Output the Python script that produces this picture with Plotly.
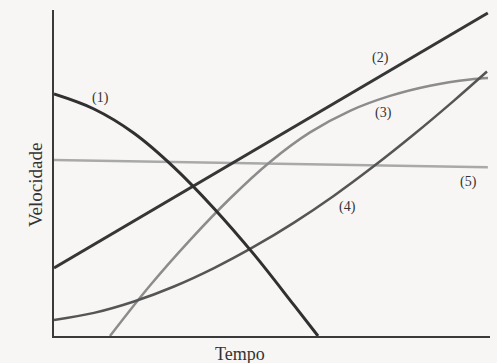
import plotly.graph_objects as go

# Data (arbitrary units, 0-100 scale)
x1 = [0, 9.17, 18.35, 27.52, 36.7, 45.87, 55.05, 60.55]
y1 = [74.23, 69.63, 62.21, 51.75, 39.14, 25.03, 9.45, 0]

x2 = [0, 99.5]
y2 = [20.9, 99.1]

x3 = [12.84, 22.02, 31.19, 40.37, 49.54, 58.72, 67.89, 77.06, 86.24, 95.41, 99.54]
y3 = [0, 15.49, 29.42, 42.18, 53.4, 62.45, 69.08, 73.65, 76.78, 78.71, 79.14]

x4 = [0, 9.17, 18.35, 27.52, 36.7, 45.87, 55.05, 64.22, 73.39, 82.57, 91.74, 99.31]
y4 = [4.91, 7.09, 10.58, 15.18, 20.83, 27.39, 34.79, 43.04, 52.12, 61.87, 72.21, 81.13]

x5 = [0, 99.5]
y5 = [54.0, 51.8]

labels = ["(1)", "(2)", "(3)", "(4)", "(5)"]
label_x = [10.55, 74.8, 75.5, 67.4, 95.0]
label_y = [73.0, 85.3, 68.4, 39.6, 47.2]

series = [
    (x5, y5, "#a9a9a9", 2.5),
    (x3, y3, "#8c8c8c", 2.5),
    (x4, y4, "#555555", 2.5),
    (x2, y2, "#363636", 3),
    (x1, y1, "#303030", 3),
]

fig = go.Figure()
for xs, ys, col, w in series:
    fig.add_trace(go.Scatter(x=xs, y=ys, mode="lines",
                             line=dict(color=col, width=w, shape="spline", smoothing=1.0),
                             hoverinfo="skip", showlegend=False))

font_family = "Liberation Serif, DejaVu Serif, serif"
for t, lx, ly in zip(labels, label_x, label_y):
    fig.add_annotation(x=lx, y=ly, text=t, showarrow=False,
                       font=dict(family=font_family, size=14, color="#333333"))

fig.add_annotation(xref="paper", yref="paper", x=-0.0436, y=0.463,
                   text="Velocidade", textangle=-90, showarrow=False,
                   font=dict(family=font_family, size=19, color="#333333"),
                   xanchor="center", yanchor="middle")
fig.add_annotation(xref="paper", yref="paper", x=0.427, y=0, yshift=-18,
                   text="Tempo", showarrow=False,
                   font=dict(family=font_family, size=18, color="#333333"),
                   xanchor="center", yanchor="middle")

fig.update_layout(
    width=497, height=363,
    margin=dict(l=54, r=7, t=10, b=27),
    paper_bgcolor="#f7f6f4",
    plot_bgcolor="#f7f6f4",
    xaxis=dict(range=[0, 100], showgrid=False, zeroline=False, showticklabels=False,
               ticks="", showline=True, linecolor="#3a3a3a", linewidth=1.5),
    yaxis=dict(range=[0, 100], showgrid=False, zeroline=False, showticklabels=False,
               ticks="", showline=True, linecolor="#3a3a3a", linewidth=1.5),
)

fig.write_html("out.html", config={"displayModeBar": False},
               post_script="document.body.style.margin='0';document.body.style.background='#f7f6f4';")
